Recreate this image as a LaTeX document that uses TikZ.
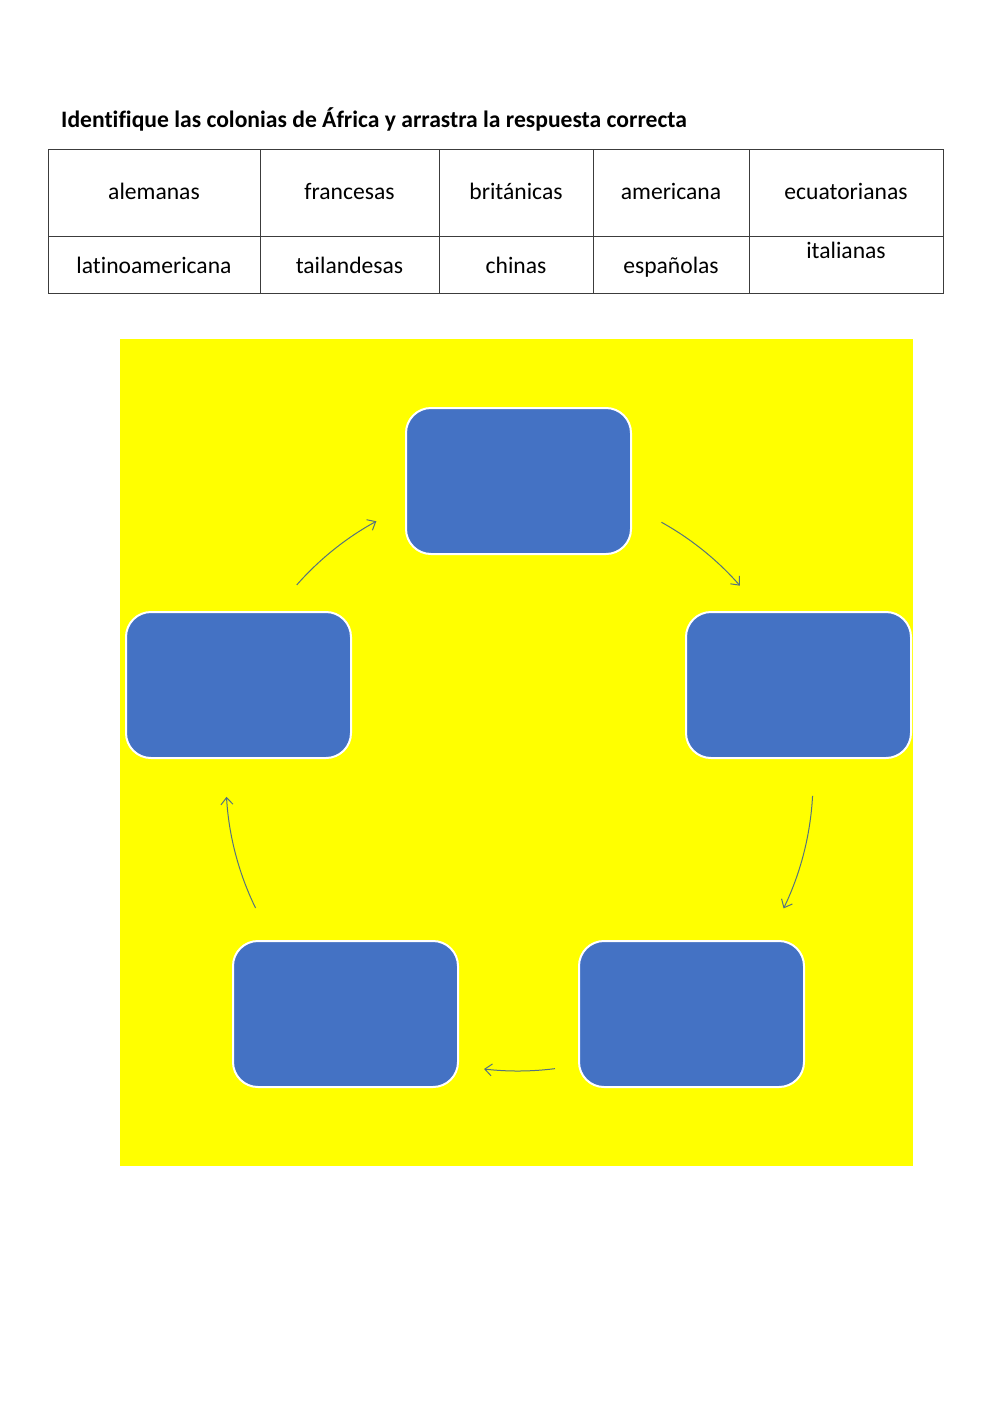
\documentclass[tikz,border=0pt]{standalone}
\usepackage{fontspec}
\setmainfont[Ligatures=CommonOff]{Carlito}
\usetikzlibrary{arrows.meta}
\definecolor{boxblue}{RGB}{68,114,196}
\definecolor{panelyellow}{RGB}{255,255,0}
\definecolor{arrcol}{RGB}{85,115,125}
\definecolor{gridcol}{RGB}{60,60,60}
\tikzset{
  cellbox/.style={anchor=base,font=\fontsize{23.6}{28}\selectfont},
  stagebox/.style={draw=white,line width=2pt,fill=boxblue,rounded corners=25pt,
    minimum width=225pt,minimum height=146pt,inner sep=0pt},
  cyclearrow/.style={draw=arrcol,line width=1pt,-{Straight Barb[length=7pt,width=12pt,line width=1pt]}},
  gridline/.style={draw=gridcol,line width=1pt}
}
\begin{document}
\begin{tikzpicture}[x=1pt,y=-1pt]
\useasboundingbox[fill=white] (0,0) rectangle (1000,1413);
% title
\node[anchor=base west,inner sep=0pt,font=\fontsize{23.6}{28}\selectfont\bfseries] (title) at (61,127)
  {Identifique las colonias de África y arrastra la respuesta correcta};
% table
\draw[gridline] (48,149) rectangle (943,293);
\draw[gridline] (48,236) -- (943,236);
\foreach \x in {260,439,593,749} \draw[gridline] (\x,149) -- (\x,293);
\node[cellbox] (c11) at (154,199) {alemanas};
\node[cellbox] (c12) at (349.5,199) {francesas};
\node[cellbox] (c13) at (516,199) {británicas};
\node[cellbox] (c14) at (671,199) {americana};
\node[cellbox] (c15) at (846,199) {ecuatorianas};
\node[cellbox] (c21) at (154,273) {latinoamericana};
\node[cellbox] (c22) at (349.5,273) {tailandesas};
\node[cellbox] (c23) at (516,273) {chinas};
\node[cellbox] (c24) at (671,273) {españolas};
\node[cellbox] (c25) at (846,258) {italianas};
% yellow panel
\fill[panelyellow] (120,339) rectangle (913,1166);
% boxes
\node[stagebox] (top) at (518.5,481) {};
\node[stagebox] (right) at (798.5,685) {};
\node[stagebox] (left) at (238.5,685) {};
\node[stagebox] (br) at (691.5,1014) {};
\node[stagebox] (bl) at (345.5,1014) {};
% arrows on circle centred at (518,780)
\coordinate (ctr) at (518,780);
\draw[cyclearrow] (ctr) ++(-138.6:295) arc[start angle=-138.6,end angle=-118.7,radius=295];
\draw[cyclearrow] (ctr) ++(-60.9:295) arc[start angle=-60.9,end angle=-41.2,radius=295];
\draw[cyclearrow] (ctr) ++(3.1:295) arc[start angle=3.1,end angle=25.8,radius=295];
\draw[cyclearrow] (ctr) ++(82.7:291) arc[start angle=82.7,end angle=96.7,radius=291];
\draw[cyclearrow] (ctr) ++(154:292) arc[start angle=154,end angle=176.7,radius=292];
\end{tikzpicture}
\end{document}
